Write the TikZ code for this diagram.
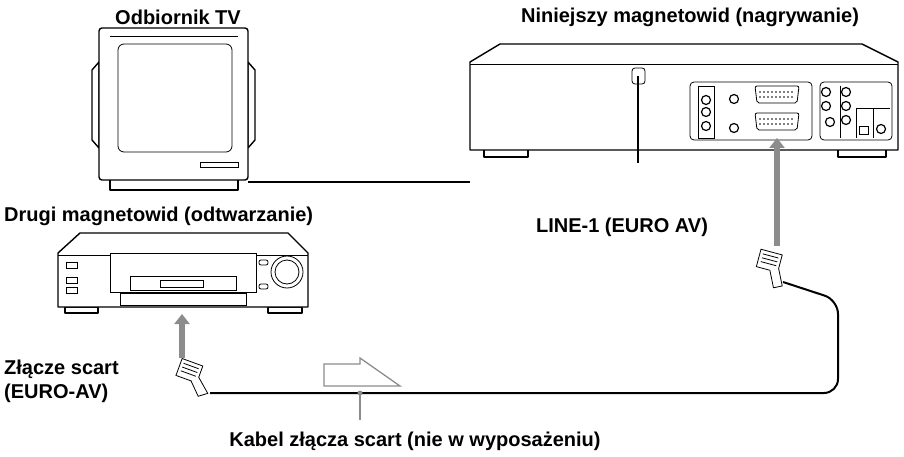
\documentclass[tikz,border=0pt]{standalone}
\usepackage{fontspec}
\setmainfont{Liberation Sans}
\usetikzlibrary{positioning}
\usetikzlibrary{arrows.meta}

\begin{document}
\begin{tikzpicture}
	[x=1pt,y=-1pt,
	labelstyle/.style={font=\bfseries\fontsize{20}{23}\selectfont,inner sep=0pt},
	bodystyle/.style={draw=black,line width=1.4pt,fill=white,line join=round},
	thinstyle/.style={draw=black,line width=0.8pt,fill=white},
	greyarrow/.style={draw=black!45,line width=6pt,-{Triangle[length=10pt,width=15pt]}},
	cablestyle/.style={draw=black,line width=2pt},
	jack/.style={circle,draw=black,line width=1.2pt,minimum size=9pt,inner sep=0pt}
	]
	\useasboundingbox (0,0) rectangle (904,457);
	
	%Labels
	\node(TVlabel)[labelstyle] at (178,17) {Odbiornik TV};
	\node(RecLabel)[labelstyle] at (690,17) {Niniejszy magnetowid (nagrywanie)};
	\node(PlayLabel)[labelstyle,anchor=west] at (4,216) {Drugi magnetowid (odtwarzanie)};
	\node(LineLabel)[labelstyle] at (622,227) {LINE-1 (EURO AV)};
	\node(ScartLabel)[labelstyle,anchor=west,align=left] at (4,381) {Złącze scart\\[1pt](EURO-AV)};
	\node(CableLabel)[labelstyle] at (415,441) {Kabel złącza scart (nie w wyposażeniu)};
	
	%TV
	\draw[bodystyle] (92,70) -- (99,62) -- (99,148) -- (92,140) -- cycle;
	\draw[bodystyle] (255,70) -- (248,62) -- (248,148) -- (255,140) -- cycle;
	\draw[bodystyle] (110,178) rectangle (238,190);
	\draw[bodystyle,rounded corners=3pt] (99,28) rectangle (248,180);
	\draw[thinstyle,rounded corners=6pt] (118,44) rectangle (232,152);
	\draw[thinstyle] (110,36) -- (238,36);
	\draw[thinstyle] (200,162) rectangle (238,167);
	\coordinate(TVout) at (248,182);
	
	%Recording VCR
	\draw[bodystyle] (484,148) rectangle (528,157);
	\draw[bodystyle] (838,148) rectangle (886,157);
	\draw[bodystyle] (470,62) -- (500,44) -- (862,44) -- (898,62) -- (898,150) -- (470,150) -- cycle;
	\draw[thinstyle] (470,64) -- (898,64);
	\draw[thinstyle,rounded corners=3pt] (632,68) rectangle (645,84);
	\draw[thinstyle,rounded corners=4pt] (690,82) rectangle (812,140);
	\draw[thinstyle] (698,86) rectangle (714,138);
	\foreach \yy in {100,112,126} \node[jack] at (706,\yy) {};
	\node[jack] at (734,99) {};
	\node[jack] at (734,128) {};
	\draw[thinstyle,rounded corners=2pt] (755,86) -- (799,86) -- (797,103) -- (757,103) -- cycle;
	\draw[thinstyle,rounded corners=2pt] (755,113) -- (799,113) -- (797,130) -- (757,130) -- cycle;
	\foreach \xx in {760,764,...,794} {\fill (\xx,92) circle (0.8pt); \fill (\xx,97) circle (0.8pt);
		\fill (\xx,119) circle (0.8pt); \fill (\xx,124) circle (0.8pt);}
	\draw[thinstyle,rounded corners=4pt] (820,82) rectangle (892,140);
	\draw[thinstyle] (840,86) -- (840,138);
	\draw[thinstyle] (856,108) -- (856,138);
	\draw[thinstyle] (873,108) -- (873,138);
	\draw[thinstyle] (856,108) -- (890,108);
	\foreach \yy in {92,106,120} \node[jack] at (846,\yy) {};
	\node[jack] at (826,92) {};
	\node[jack] at (826,106) {};
	\node[jack] at (830,122) {};
	\draw[thinstyle] (859,126) rectangle (868,134);
	\node[jack] at (881,129) {};
	\coordinate(RecIn) at (470,182);
	\coordinate(ScartTop) at (777,138);
	
	%Power cord
	\draw[line width=1.4pt] (638,76) -- (638,163);
	
	%TV to VCR
	\draw[cablestyle] (TVout) -- (RecIn);
	
	%Playback VCR
	\draw[bodystyle] (65,307) rectangle (98,313);
	\draw[bodystyle] (268,307) rectangle (302,313);
	\draw[bodystyle] (58,253) -- (80,233) -- (288,233) -- (308,253) -- (308,307) -- (58,307) -- cycle;
	\draw[thinstyle] (58,255) -- (308,255);
	\draw[thinstyle] (110,253) rectangle (256,292);
	\draw[thinstyle] (120,293) rectangle (246,305);
	\draw[thinstyle] (130,276) rectangle (236,290);
	\draw[thinstyle] (160,280) rectangle (203,287);
	\foreach \yy in {266,281,291} \draw[thinstyle] (66,\yy-4) rectangle (77,\yy+2);
	\draw[thinstyle,rounded corners=2pt] (259,260) rectangle (268,265);
	\draw[thinstyle,rounded corners=2pt] (259,284) rectangle (268,289);
	\draw[thinstyle] (287,272) circle (16pt);
	\draw[thinstyle] (287,272) circle (12pt);
	\coordinate(PlayIn) at (182,314);
	
	%Scart plugs
	\begin{scope}[shift={(190,372)},rotate=-20]
		\draw[thinstyle] (-12,-10) rectangle (10,8);
		\draw[thinstyle] (-9,-6) -- (7,-6) (-9,-2) -- (7,-2) (-9,2) -- (7,2);
		\draw[thinstyle] (4,8) -- (16,20) -- (24,14) -- (10,2);
	\end{scope}
	\begin{scope}[shift={(770,262)},rotate=-15]
		\draw[thinstyle] (-12,-10) rectangle (10,8);
		\draw[thinstyle] (-9,-6) -- (7,-6) (-9,-2) -- (7,-2) (-9,2) -- (7,2);
		\draw[thinstyle] (2,8) -- (10,24) -- (18,20) -- (10,4);
	\end{scope}
	\coordinate(PlugL) at (210,393);
	\coordinate(PlugR) at (783,282);
	\coordinate(ArrowL) at (182,358);
	\coordinate(ArrowR) at (777,246);
	
	%Grey arrows
	\draw[greyarrow] (ArrowL) -- (PlayIn);
	\draw[greyarrow] (ArrowR) -- (ScartTop);
	
	%Cable
	\draw[cablestyle,rounded corners=14pt] (PlugL) -- (838,393) -- (838,300) -- (PlugR);
	
	%Direction arrow
	\draw[draw=black!45,line width=1.3pt,fill=white,line join=miter] (324,364) -- (360,364) -- (360,358) -- (400,386) -- (324,386) -- cycle;
	
	%Pointer
	\coordinate(CableDot) at (360,393);
	\coordinate(PointEnd) at (360,420);
	\draw[black!45,line width=1.3pt] (CableDot) -- (PointEnd);
	\fill[black!45] (CableDot) circle (2.5pt);
\end{tikzpicture}
\end{document}
